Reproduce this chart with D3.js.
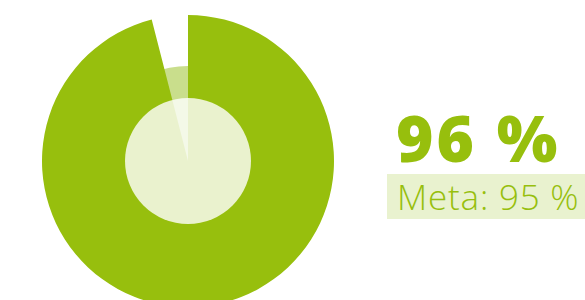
<!DOCTYPE html>
<html>
<head>
<meta charset="utf-8">
<script src="https://cdn.jsdelivr.net/npm/d3@7"></script>
<style>
  html, body { margin: 0; padding: 0; background: #fff; overflow: hidden; }
  #svg-container { width: 585px; height: 300px; }
</style>
</head>
<body>
<div id="svg-container"></div>
<script>
// data
const value = [96];
const meta = [95];
const total = [100];
const valueLabel = (v) => `${v} %`;
const metaLabel = (v) => `Meta: ${v} %`;

// colours
const green = "#97bf0d";
const pale = "#c9de8c";
const paleBox = "#e9f2cf";

const width = 585;
const height = 300;
const cx = 188;
const cy = 161;

const svg = d3.select("#svg-container").append("svg")
  .attr("width", width)
  .attr("height", height);

// percentage -> angle
const angle = d3.scaleLinear().domain([0, total[0]]).range([0, 2 * Math.PI]);

const g = svg.append("g").attr("transform", `translate(${cx},${cy})`);

// background ring (full)
g.append("path")
  .datum(total[0])
  .attr("d", (d) => d3.arc().innerRadius(0).outerRadius(95)
    .startAngle(angle(0)).endAngle(angle(d))())
  .attr("fill", pale);

// value arc
g.append("path")
  .datum(value[0])
  .attr("d", (d) => d3.arc().innerRadius(0).outerRadius(146)
    .startAngle(angle(0)).endAngle(angle(d))())
  .attr("fill", green);

// centre overlay
g.append("circle")
  .attr("r", 63)
  .attr("fill", "#fff")
  .attr("fill-opacity", 0.8);

// big value
svg.append("text")
  .attr("x", 396)
  .attr("y", 162)
  .attr("font-family", "'Open Sans', sans-serif")
  .attr("font-weight", 800)
  .attr("font-size", 64)
  .attr("letter-spacing", 3)
  .attr("fill", green)
  .text(valueLabel(value[0]));

// meta box
svg.append("rect")
  .attr("x", 387)
  .attr("y", 174)
  .attr("width", 220)
  .attr("height", 45)
  .attr("fill", paleBox);

svg.append("text")
  .attr("x", 397)
  .attr("y", 210)
  .attr("font-family", "'Open Sans', sans-serif")
  .attr("font-weight", 300)
  .attr("font-size", 35)
  .attr("letter-spacing", 0.8)
  .attr("fill", green)
  .text(metaLabel(meta[0]));
</script>
</body>
</html>
